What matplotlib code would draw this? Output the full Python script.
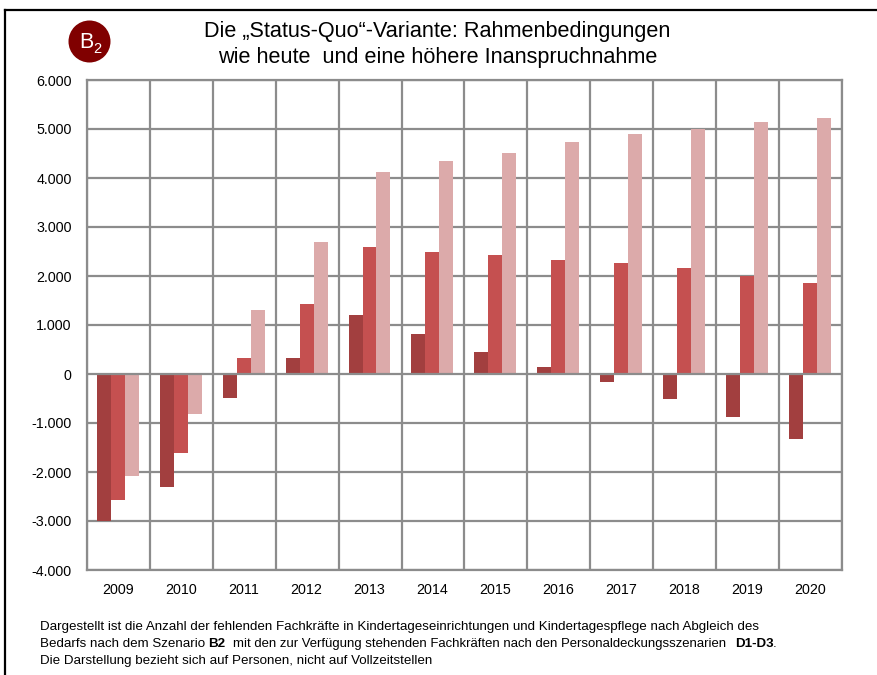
import matplotlib
matplotlib.use("Agg")
import matplotlib.pyplot as plt
from matplotlib.patches import Circle
from matplotlib.lines import Line2D

plt.rcParams['font.family'] = ['Liberation Sans', 'DejaVu Sans']

years = ['2009','2010','2011','2012','2013','2014','2015','2016','2017','2018','2019','2020']
d1 = [-3000,-2300,-480,320,1200,820,450,150,-170,-500,-870,-1330]
d2 = [-2580,-1620,320,1420,2600,2480,2420,2330,2270,2170,2010,1860]
d3 = [-2090,-810,1300,2700,4130,4350,4520,4730,4890,5010,5140,5220]
yticks = [-4000,-3000,-2000,-1000,0,1000,2000,3000,4000,5000,6000]
ylabels = ['-4.000','-3.000','-2.000','-1.000','0','1.000','2.000','3.000','4.000','5.000','6.000']
title_lines = ['Die „Status-Quo“-Variante: Rahmenbedingungen', 'wie heute  und eine höhere Inanspruchnahme']
W, H = 878, 675
fig = plt.figure(figsize=(W/100, H/100), dpi=100, facecolor='white')
L, R, T, B = 87, 842, 80, 570
ax = fig.add_axes([L/W, 1-B/H, (R-L)/W, (B-T)/H])
ax.set_xlim(0, 12); ax.set_ylim(-4000, 6000)
grid = '#8c8c8c'
bw = 14/63
x = [i+0.49 for i in range(12)]
ax.bar([v-bw for v in x], d1, bw, color='#a23f3f', zorder=3)
ax.bar(x, d2, bw, color='#c55050', zorder=3)
ax.bar([v+bw for v in x], d3, bw, color='#dcaaaa', zorder=3)
ax.set_yticks(yticks, ylabels)
ax.set_xticks(x, years)
ax.tick_params(length=0, labelsize=10.3, colors='black')
ax.tick_params(axis='x', pad=9.5)
ax.tick_params(axis='y', pad=11)
for v in yticks:
    ax.axhline(v, color=grid, lw=1.6, zorder=4 if v == 0 else 1)
for v in range(13):
    ax.axvline(v, color=grid, lw=1.6, zorder=1)
for s in ax.spines.values():
    s.set_color(grid); s.set_linewidth(1.6)

fig.add_artist(Line2D([5.5/W, 5.5/W], [0, 1-10/H], color='black', lw=1.6))
fig.add_artist(Line2D([5/W, 1], [1-10/H, 1-10/H], color='black', lw=1.6))
bg = fig.add_axes([0, 0, 1, 1], zorder=5); bg.axis('off')
bg.set_xlim(0, W); bg.set_ylim(H, 0)
bg.add_patch(Circle((89.5, 41.5), 21, color='#800000', lw=0))
bg.text(79, 42, 'B', color='white', fontsize=15.5, va='center', ha='left')
bg.text(93, 49, '2', color='white', fontsize=10.5, va='center', ha='left')
bg.text(437.5, 32, title_lines[0], fontsize=15.55, ha='center', va='center')
bg.text(437.5, 57, title_lines[1], fontsize=15.55, ha='center', va='center')
fs = 9.6
bg.text(40, 627, 'Dargestellt ist die Anzahl der fehlenden Fachkräfte in Kindertageseinrichtungen und Kindertagespflege nach Abgleich des', fontsize=9.64, va='center')
bg.text(40, 644, 'Bedarfs nach dem Szenario', fontsize=fs, va='center')
bg.text(208, 644, 'B2', fontsize=fs, va='center', fontweight='bold')
bg.text(233, 644, 'mit den zur Verfügung stehenden Fachkräften nach den Personaldeckungsszenarien', fontsize=9.47, va='center')
bg.text(735, 644, 'D1-D3', fontsize=fs, va='center', fontweight='bold')
bg.text(773, 644, '.', fontsize=fs, va='center')
bg.text(40, 661, 'Die Darstellung bezieht sich auf Personen, nicht auf Vollzeitstellen', fontsize=fs, va='center')
fig.savefig('out.png', dpi=100)
